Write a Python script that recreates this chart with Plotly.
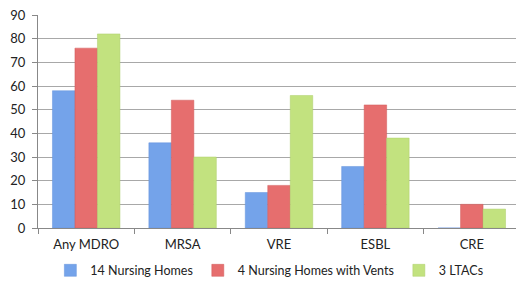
import plotly.graph_objects as go

categories = ["Any MDRO", "MRSA", "VRE", "ESBL", "CRE"]
series_names = ["14 Nursing Homes", "4 Nursing Homes with Vents", "3 LTACs"]
nursing_homes = [58, 36, 15, 26, 0]
nursing_vents = [76, 54, 18, 52, 10]
ltacs = [82, 30, 56, 38, 8]
y_ticks = [0, 10, 20, 30, 40, 50, 60, 70, 80, 90]

colors = ["#74a3ea", "#e66e6e", "#c2e27f"]
line_colors = ["#6493dc", "#d05a5a", "#adcf6a"]

fig = go.Figure()
for name, vals, c, lc in zip(series_names, [nursing_homes, nursing_vents, ltacs], colors, line_colors):
    fig.add_trace(go.Bar(x=categories, y=vals, name=name,
                         marker=dict(color=c, line=dict(color=lc, width=0.5))))

fig.update_layout(
    width=524, height=285,
    margin=dict(l=30, r=12, t=7, b=58),
    paper_bgcolor="white", plot_bgcolor="white",
    barmode="group", bargap=0.3, bargroupgap=0,
    font=dict(family="Lato, Liberation Sans, sans-serif", size=13, color="#222"),
    showlegend=True,
    legend=dict(orientation="h", x=0.48, xanchor="center", y=-0.13, yanchor="top",
                font=dict(size=12.5), itemwidth=30, traceorder="normal"),
    xaxis=dict(showline=True, linecolor="#888", ticks="outside", tickson="boundaries",
               ticklen=5, tickcolor="#888", showgrid=False, automargin=False,
               ticklabelstandoff=4),
    yaxis=dict(range=[0, 90], tickvals=y_ticks, showline=True, linecolor="#888",
               ticks="outside", ticklen=5, tickcolor="#888", ticklabelstandoff=4,
               tickfont=dict(size=13), ticklabeloverflow="allow", automargin=False,
               gridcolor="#a8a8a8", gridwidth=1, zeroline=False),
)
fig.write_html("out.html")
